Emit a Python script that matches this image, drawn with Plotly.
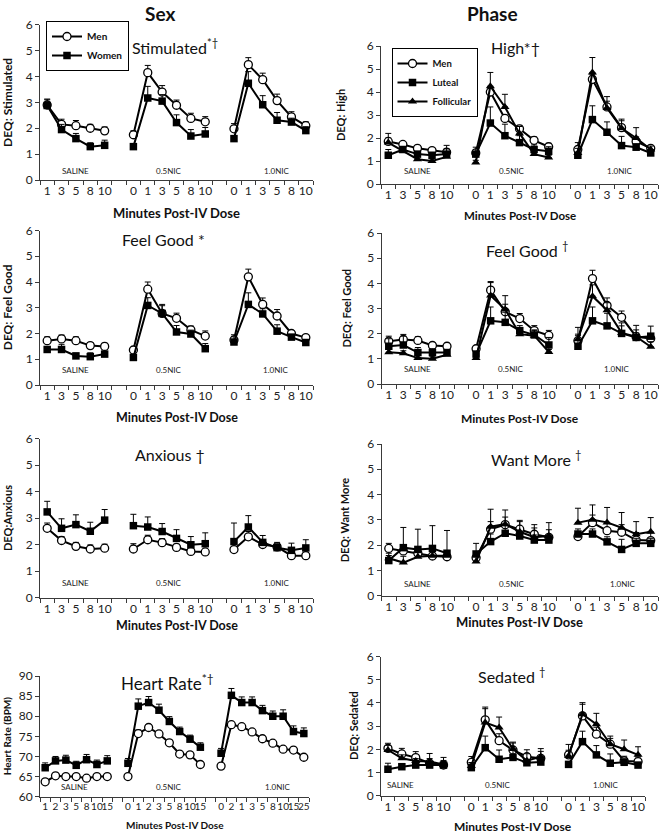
import plotly.graph_objects as go

W, H = 668, 833
FONT = "Lato"

# ---------------- tick labels / groups ----------------
DEQ_TICKS = [["1", "3", "5", "8", "10"],
             ["0", "1", "3", "5", "8", "10"],
             ["0", "1", "3", "5", "8", "10"]]
HR_TICKS = [["1", "2", "3", "5", "8", "10", "15"],
            ["0", "1", "2", "3", "5", "8", "10", "15"],
            ["0", "2", "1", "3", "5", "8", "10", "15", "25"]]
GROUP_NAMES = ["SALINE", "0.5NIC", "1.0NIC"]

# ---------------- data: Sex column ----------------
stim_men = [[2.9, 2.15, 2.1, 2.0, 1.9], [1.75, 4.15, 3.4, 2.89, 2.38, 2.25], [1.98, 4.46, 3.88, 3.07, 2.44, 2.1]]
stim_men_err = [[0.2, 0.2, 0.2, 0.15, 0.15], [0.15, 0.28, 0.25, 0.2, 0.2, 0.2], [0.2, 0.27, 0.25, 0.25, 0.2, 0.15]]
stim_women = [[2.88, 1.95, 1.6, 1.29, 1.34], [1.29, 3.17, 3.05, 2.22, 1.7, 1.78], [1.6, 3.74, 2.91, 2.31, 2.24, 1.91]]
stim_women_err = [[0.25, 0.2, 0.2, 0.15, 0.2], [0.1, 0.45, 0.25, 0.3, 0.25, 0.25], [0.1, 0.45, 0.35, 0.3, 0.15, 0.15]]

fg_men = [[1.72, 1.79, 1.72, 1.53, 1.5], [1.36, 3.72, 2.78, 2.59, 2.14, 1.9], [1.75, 4.2, 3.13, 2.68, 2.0, 1.84]]
fg_men_err = [[0.15, 0.15, 0.15, 0.12, 0.12], [0.1, 0.28, 0.3, 0.2, 0.15, 0.2], [0.2, 0.3, 0.25, 0.25, 0.1, 0.1]]
fg_women = [[1.38, 1.38, 1.13, 1.1, 1.2], [1.07, 3.09, 2.78, 2.06, 1.98, 1.41], [1.67, 3.13, 2.76, 2.09, 1.86, 1.65]]
fg_women_err = [[0.1, 0.2, 0.1, 0.15, 0.1], [0.1, 0.3, 0.35, 0.25, 0.15, 0.2], [0.2, 0.45, 0.2, 0.25, 0.1, 0.1]]

anx_women = [[3.23, 2.61, 2.75, 2.5, 2.92], [2.71, 2.66, 2.49, 2.23, 1.99, 2.03], [2.11, 2.66, 2.08, 1.88, 1.78, 1.87]]
anx_women_err = [[0.4, 0.36, 0.37, 0.34, 0.4], [0.43, 0.38, 0.3, 0.33, 0.31, 0.41], [0.7, 0.43, 0.26, 0.2, 0.27, 0.31]]
anx_men = [[2.61, 2.15, 1.93, 1.83, 1.86], [1.83, 2.18, 2.07, 1.89, 1.74, 1.72], [1.81, 2.29, 2.0, 1.91, 1.58, 1.58]]
anx_men_err = [[0.2, 0.15, 0.15, 0.15, 0.15], [0.2, 0.17, 0.15, 0.12, 0.1, 0.1], [0.1, 0.2, 0.1, 0.1, 0.1, 0.1]]

hr_women = [[67.2, 68.9, 69.1, 67.8, 69.2, 68.0, 68.9],
            [68.3, 82.5, 83.4, 81.5, 78.7, 76.2, 74.3, 72.3],
            [70.8, 85.2, 83.4, 83.4, 81.4, 80.0, 80.0, 76.2, 75.7]]
hr_women_err = [[1.2, 1.1, 1.2, 1.0, 1.3, 1.1, 1.3],
                [1.2, 1.8, 1.5, 1.5, 1.2, 1.1, 1.0, 1.1],
                [1.2, 1.7, 1.4, 1.4, 1.3, 1.3, 1.6, 1.4, 1.4]]
hr_men = [[63.7, 65.2, 65.0, 65.0, 64.6, 65.0, 65.0],
          [65.0, 75.7, 77.2, 75.6, 73.4, 70.6, 70.4, 68.0],
          [67.6, 77.9, 77.4, 76.1, 74.4, 73.3, 71.8, 71.6, 69.8]]
hr_men_err = [[0.4, 0.4, 0.4, 0.4, 0.4, 0.4, 0.4],
              [0.4, 0.9, 0.7, 0.7, 0.7, 0.6, 0.6, 0.6],
              [0.4, 0.6, 0.6, 0.5, 0.5, 0.5, 0.5, 0.5, 0.5]]

# ---------------- data: Phase column ----------------
high_men = [[1.85, 1.72, 1.55, 1.45, 1.38], [1.35, 4.0, 2.85, 2.4, 1.9, 1.62], [1.5, 4.55, 3.35, 2.45, 1.85, 1.55]]
high_men_err = [[0.15, 0.12, 0.1, 0.1, 0.3], [0.15, 0.15, 0.15, 0.15, 0.15, 0.15], [0.3, 0.2, 0.45, 0.3, 0.2, 0.1]]
high_lut = [[1.25, 1.5, 1.3, 1.25, 1.3], [1.3, 2.65, 2.1, 1.8, 1.5, 1.42], [1.25, 2.8, 2.25, 1.67, 1.6, 1.35]]
high_lut_err = [[0.25, 0.1, 0.1, 0.1, 0.1], [0.3, 0.7, 0.5, 0.3, 0.2, 0.2], [0.1, 0.6, 0.45, 0.4, 0.15, 0.1]]
high_fol = [[1.8, 1.45, 1.08, 1.0, 1.18], [0.93, 4.25, 3.35, 2.2, 1.3, 1.15], [1.35, 4.85, 3.3, 2.42, 2.0, 1.5]]
high_fol_err = [[0.4, 0.1, 0.1, 0.1, 0.35], [0.1, 0.6, 0.55, 0.3, 0.2, 0.1], [0.2, 0.65, 0.3, 0.4, 0.45, 0.15]]

fgp_men = [[1.7, 1.77, 1.73, 1.53, 1.5], [1.4, 3.73, 2.87, 2.6, 2.12, 1.93], [1.72, 4.19, 3.12, 2.65, 1.88, 1.81]]
fgp_men_err = [[0.2, 0.2, 0.15, 0.12, 0.12], [0.1, 0.3, 0.3, 0.2, 0.2, 0.2], [0.2, 0.33, 0.3, 0.25, 0.15, 0.15]]
fgp_lut = [[1.5, 1.55, 1.25, 1.25, 1.25], [1.19, 2.51, 2.45, 2.12, 1.95, 1.55], [1.5, 2.51, 2.31, 2.01, 1.85, 1.9]]
fgp_lut_err = [[0.3, 0.35, 0.2, 0.15, 0.1], [0.1, 0.55, 0.4, 0.2, 0.2, 0.3], [0.75, 0.55, 0.5, 0.3, 0.3, 0.4]]
fgp_fol = [[1.26, 1.22, 1.03, 1.0, 1.16], [1.03, 3.52, 2.96, 1.98, 1.92, 1.27], [1.78, 3.49, 2.93, 2.03, 1.88, 1.48]]
fgp_fol_err = [[0.15, 0.1, 0.1, 0.1, 0.1], [0.1, 0.55, 0.55, 0.2, 0.2, 0.1], [0.2, 0.45, 0.3, 0.4, 0.45, 0.2]]

want_men = [[1.87, 1.77, 1.68, 1.57, 1.54], [1.5, 2.63, 2.81, 2.63, 2.43, 2.31], [2.34, 2.89, 2.57, 2.51, 2.2, 2.18]]
want_men_err = [[0.2, 0.2, 0.2, 0.2, 0.15], [0.2, 0.3, 0.3, 0.3, 0.25, 0.3], [0.1, 0.3, 0.3, 0.3, 0.3, 0.3]]
want_lut = [[1.39, 1.9, 1.83, 1.87, 1.68], [1.65, 2.14, 2.47, 2.36, 2.2, 2.2], [2.44, 2.44, 2.13, 1.83, 2.07, 2.07]]
want_lut_err = [[0.2, 0.8, 0.8, 0.9, 0.9], [0.42, 0.3, 0.3, 0.2, 0.2, 0.2], [0.2, 0.2, 0.2, 0.4, 0.2, 0.2]]
want_fol = [[1.48, 1.31, 1.54, 1.58, 1.58], [1.35, 2.73, 2.83, 2.53, 2.31, 2.36], [2.89, 3.0, 2.9, 2.69, 2.43, 2.53]]
want_fol_err = [[0.2, 0.25, 0.2, 0.2, 0.2], [0.2, 0.69, 0.56, 0.45, 0.5, 0.53], [0.57, 0.59, 0.59, 0.6, 0.5, 0.56]]

sed_men = [[2.04, 1.8, 1.64, 1.4, 1.32], [1.44, 3.27, 2.37, 1.97, 1.68, 1.61], [1.76, 3.44, 2.65, 2.22, 1.5, 1.47]]
sed_men_err = [[0.22, 0.24, 0.26, 0.2, 0.2], [0.25, 0.55, 0.3, 0.3, 0.3, 0.3], [0.2, 0.5, 0.3, 0.25, 0.2, 0.2]]
sed_lut = [[1.14, 1.25, 1.32, 1.32, 1.32], [1.21, 2.07, 1.57, 1.65, 1.42, 1.45], [1.35, 2.33, 1.76, 1.4, 1.44, 1.32]]
sed_lut_err = [[0.26, 0.1, 0.1, 0.1, 0.1], [0.15, 0.5, 0.4, 0.35, 0.15, 0.15], [0.1, 0.45, 0.4, 0.4, 0.15, 0.1]]
sed_fol = [[1.97, 1.61, 1.5, 1.47, 1.35], [1.28, 3.15, 2.94, 2.01, 1.51, 1.68], [1.71, 3.51, 3.08, 2.22, 2.0, 1.76]]
sed_fol_err = [[0.2, 0.15, 0.1, 0.35, 0.3], [0.15, 0.6, 0.45, 0.3, 0.3, 0.35], [0.5, 0.5, 0.47, 0.35, 0.4, 0.35]]

# ---------------- styles ----------------
STYLE = {
    "Men": dict(symbol="circle", size=8, color="white", line=dict(color="black", width=1.3)),
    "Women": dict(symbol="square", size=7.5, color="black", line=dict(color="black", width=0)),
    "Luteal": dict(symbol="square", size=7.5, color="black", line=dict(color="black", width=0)),
    "Follicular": dict(symbol="triangle-up", size=8, color="black", line=dict(color="black", width=0)),
}

PANELS = [
    dict(title="Stimulated<sup>*†</sup>", ylab="DEQ: Stimulated", ticks=DEQ_TICKS, yr=[0, 6], dt=1, legend="legend",
         series=[("Men", stim_men, stim_men_err), ("Women", stim_women, stim_women_err)]),
    dict(title="High*†", ylab="DEQ: High", ticks=DEQ_TICKS, yr=[0, 6], dt=1, legend="legend2",
         series=[("Men", high_men, high_men_err), ("Luteal", high_lut, high_lut_err),
                 ("Follicular", high_fol, high_fol_err)]),
    dict(title="Feel Good *", ylab="DEQ: Feel Good", ticks=DEQ_TICKS, yr=[0, 6], dt=1, legend=None,
         series=[("Men", fg_men, fg_men_err), ("Women", fg_women, fg_women_err)]),
    dict(title="Feel Good <sup>†</sup>", ylab="DEQ: Feel Good", ticks=DEQ_TICKS, yr=[0, 6], dt=1, legend=None,
         series=[("Men", fgp_men, fgp_men_err), ("Luteal", fgp_lut, fgp_lut_err),
                 ("Follicular", fgp_fol, fgp_fol_err)]),
    dict(title="Anxious †", ylab="DEQ:Anxious", ticks=DEQ_TICKS, yr=[0, 6], dt=1, legend=None,
         series=[("Men", anx_men, anx_men_err), ("Women", anx_women, anx_women_err)]),
    dict(title="Want More <sup>†</sup>", ylab="DEQ: Want More", ticks=DEQ_TICKS, yr=[0, 6], dt=1, legend=None,
         series=[("Men", want_men, want_men_err), ("Luteal", want_lut, want_lut_err),
                 ("Follicular", want_fol, want_fol_err)]),
    dict(title="Heart Rate<sup>*†</sup>", ylab="Heart Rate (BPM)", ticks=HR_TICKS, yr=[60, 90], dt=5, legend=None,
         series=[("Men", hr_men, hr_men_err), ("Women", hr_women, hr_women_err)]),
    dict(title="Sedated <sup>†</sup>", ylab="DEQ: Sedated", ticks=DEQ_TICKS, yr=[0, 6], dt=1, legend=None,
         series=[("Men", sed_men, sed_men_err), ("Luteal", sed_lut, sed_lut_err),
                 ("Follicular", sed_fol, sed_fol_err)]),
]

# ---------------- geometry (pixels) ----------------
# plot area: x0, x1, ytop, ybottom
BOXES = [(40, 313, 24.8, 180), (381, 658, 46, 184),
         (40, 313, 230.5, 385), (381.5, 658, 233, 384),
         (40, 313, 438.5, 597.5), (381.5, 658, 444, 595.7),
         (40, 309, 676, 796.7), (381, 645, 656.5, 795.7)]
TITLE_POS = [(175, 46), (515, 48), (163, 240), (527, 250), (170, 455), (536, 459), (167, 682), (512, 675)]
TITLE_SIZE = [16, 16, 16, 16, 16, 16, 17, 16]
YLAB_X = [7.5, 340, 7.5, 346, 7, 344.5, 7, 353]
YLAB_SIZE = [12, 11, 12, 11, 11, 11, 10, 11]
XLAB_Y = [213, 216, 417, 418, 625, 622, 825, 826]
XLAB_SIZE = [13, 11.5, 12.5, 12, 12.5, 13, 10, 12]
XTICK_SIZE = [12, 12, 12, 12, 12, 12, 10, 12]
# group-label positions (category index, y in data units)
GROUP_LAB = [([2, 8.5, 16], 0.36), ([2, 8.5, 15.9], 0.58), ([2, 8.5, 15.9], 0.6), ([2, 8.4, 15.7], 0.58),
             ([2, 8.5, 16], 0.54), ([2, 8.5, 16.1], 0.46), ([2.8, 12, 22.5], 62.5), ([0.9, 7.9, 15.7], 0.46)]


def layout_positions(ticks):
    pos, idx = [], 0
    for g, t in enumerate(ticks):
        if g > 0:
            idx += 1  # blank category between groups
        pos.append(list(range(idx, idx + len(t))))
        idx += len(t)
    return pos, idx


def px_x(x):
    return x / W


def px_y(y):
    return 1 - y / H


fig = go.Figure()
annotations = []
AXCOL = "#3a3a3a"

for k, p in enumerate(PANELS):
    n = k + 1
    xa = "x" if n == 1 else f"x{n}"
    ya = "y" if n == 1 else f"y{n}"
    pos, nslots = layout_positions(p["ticks"])
    flat_pos = [v for grp in pos for v in grp]
    flat_lab = [v for grp in p["ticks"] for v in grp]

    for name, vals, errs in p["series"]:
        xs, ys, es = [], [], []
        for g in range(3):
            if g > 0:
                xs.append(None); ys.append(None); es.append(0)
            xs += pos[g]; ys += vals[g]; es += errs[g]
        st = STYLE[name]
        fig.add_trace(go.Scatter(
            x=xs, y=ys, mode="lines+markers", name=name,
            xaxis=xa, yaxis=ya,
            line=dict(color="black", width=2),
            marker=dict(symbol=st["symbol"], size=st["size"], color=st["color"], line=st["line"]),
            error_y=dict(type="data", array=es, arrayminus=[0] * len(es), symmetric=False,
                         color="black", thickness=1, width=3),
            showlegend=p["legend"] is not None,
            legend=p["legend"] if p["legend"] else "legend",
            cliponaxis=False,
        ))

    x0, x1, yt, yb = BOXES[k]
    fig.layout[("xaxis" if n == 1 else f"xaxis{n}")] = dict(
        domain=[px_x(x0), px_x(x1)], anchor=ya, range=[-0.5, nslots - 0.5],
        tickmode="array", tickvals=flat_pos, ticktext=flat_lab, ticks="", tickangle=0,
        showline=True, linecolor=AXCOL, linewidth=1, showgrid=False, zeroline=False, automargin=False,
        tickfont=dict(family=FONT, size=XTICK_SIZE[k], color="#222"),
        minor=dict(ticks="outside", tick0=-0.5, dtick=1, ticklen=4, tickcolor=AXCOL, tickwidth=1, showgrid=False),
    )
    fig.layout[("yaxis" if n == 1 else f"yaxis{n}")] = dict(
        domain=[px_y(yb), px_y(yt)], anchor=xa, range=p["yr"], dtick=p["dt"], tick0=p["yr"][0],
        ticks="outside", ticklen=4, tickcolor=AXCOL, showline=True, linecolor=AXCOL, linewidth=1,
        showgrid=False, zeroline=False, automargin=False, tickfont=dict(family=FONT, size=12, color="#222"),
    )

    # panel title
    tx, ty = TITLE_POS[k]
    annotations.append(dict(text=p["title"], x=px_x(tx), y=px_y(ty), xref="paper", yref="paper",
                            showarrow=False, xanchor="center", yanchor="middle",
                            font=dict(family=FONT, size=TITLE_SIZE[k], color="#111")))
    # y axis title
    annotations.append(dict(text=p["ylab"], x=px_x(YLAB_X[k]), y=px_y((yt + yb) / 2), xref="paper", yref="paper",
                            showarrow=False, xanchor="center", yanchor="middle", textangle=-90,
                            font=dict(family=FONT, size=YLAB_SIZE[k], color="#111", weight="bold")))
    # x axis title
    annotations.append(dict(text="Minutes Post-IV Dose", x=px_x((x0 + x1) / 2), y=px_y(XLAB_Y[k]),
                            xref="paper", yref="paper", showarrow=False, xanchor="center", yanchor="middle",
                            font=dict(family=FONT, size=XLAB_SIZE[k], color="#111", weight="bold")))
    # group labels
    gx, gy = GROUP_LAB[k]
    for gname, gxx in zip(GROUP_NAMES, gx):
        annotations.append(dict(text=gname, x=gxx, y=gy, xref=xa, yref=ya, showarrow=False,
                                xanchor="center", yanchor="middle",
                                font=dict(family=FONT, size=8, color="#222")))

# column headers
for txt, cx in (("Sex", 160), ("Phase", 492)):
    annotations.append(dict(text=txt, x=px_x(cx), y=px_y(13), xref="paper", yref="paper", showarrow=False,
                            xanchor="center", yanchor="middle",
                            font=dict(family=FONT, size=19, color="#111", weight="bold")))

fig.update_layout(
    width=W, height=H, margin=dict(l=0, r=0, t=0, b=0),
    paper_bgcolor="white", plot_bgcolor="white",
    annotations=annotations,
    legend=dict(x=px_x(46), y=px_y(21), xanchor="left", yanchor="top", bgcolor="white",
                bordercolor="black", borderwidth=1, font=dict(family=FONT, size=10, color="#111", weight="bold"),
                itemwidth=30, tracegroupgap=0),
    legend2=dict(x=px_x(391.5), y=px_y(48), xanchor="left", yanchor="top", bgcolor="white",
                 bordercolor="black", borderwidth=1, font=dict(family=FONT, size=9.5, color="#111", weight="bold"),
                 itemwidth=30, tracegroupgap=0),
)

fig.write_html("out.html", config={"displayModeBar": False},
               post_script="document.body.style.margin='0';document.body.style.overflow='hidden';")
